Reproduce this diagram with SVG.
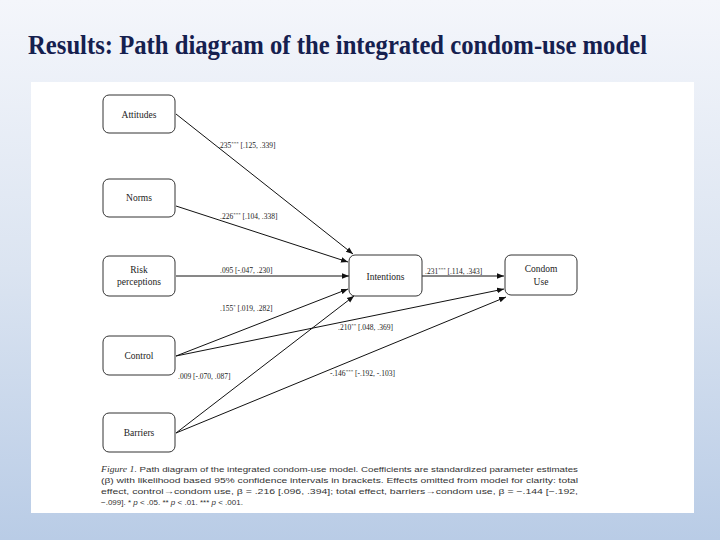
<svg xmlns="http://www.w3.org/2000/svg" width="720" height="540" viewBox="0 0 720 540">
<defs>
<linearGradient id="bg" x1="0" y1="0" x2="0" y2="1">
<stop offset="0" stop-color="#f4f6fb"/>
<stop offset="0.5" stop-color="#dbe4f1"/>
<stop offset="1" stop-color="#b9cce6"/>
</linearGradient>
<marker id="ah" viewBox="0 0 10 10" refX="10" refY="5" markerWidth="7" markerHeight="7" markerUnits="userSpaceOnUse" orient="auto">
<path d="M0,1 L10,5 L0,9 Z" fill="#111"/>
</marker>
<style>
.box{fill:#fff;stroke:#333;stroke-width:1}
.nt{font-family:"Liberation Serif",serif;font-size:9.5px;fill:#222;text-anchor:middle}
.lbl{font-family:"Liberation Serif",serif;font-size:7.5px;fill:#222}
.cap{font-family:"Liberation Sans",sans-serif;font-size:8px;fill:#333}
.edge{stroke:#111;stroke-width:1;fill:none;marker-end:url(#ah)}
</style>
</defs>
<rect width="720" height="540" fill="url(#bg)"/>
<text x="28" y="54" font-family="Liberation Serif,serif" font-weight="bold" font-size="27" fill="#15204f" textLength="619" lengthAdjust="spacingAndGlyphs">Results: Path diagram of the integrated condom-use model</text>
<rect x="31" y="82" width="663" height="431" fill="#fff"/>

<g id="connectors">
<line class="edge" x1="176" y1="114" x2="353" y2="254"/>
<line class="edge" x1="176" y1="206" x2="348" y2="262"/>
<line class="edge" x1="176" y1="276" x2="349" y2="276"/>
<line class="edge" x1="176" y1="356" x2="348" y2="289"/>
<line class="edge" x1="176" y1="356" x2="504" y2="289"/>
<line class="edge" x1="176" y1="433" x2="354" y2="296"/>
<line class="edge" x1="176" y1="433" x2="506" y2="297"/>
<line class="edge" x1="422" y1="276" x2="504" y2="276"/>
<text class="lbl" x="218" y="148">.235<tspan dy="-3" font-size="5">***</tspan><tspan dy="3"> [.125, .339]</tspan></text>
<text class="lbl" x="220" y="219">.226<tspan dy="-3" font-size="5">***</tspan><tspan dy="3"> [.104, .338]</tspan></text>
<text class="lbl" x="220" y="273">.095 [-.047, .230]</text>
<text class="lbl" x="220" y="311">.155<tspan dy="-3" font-size="5">*</tspan><tspan dy="3"> [.019, .282]</tspan></text>
<text class="lbl" x="338" y="330">.210<tspan dy="-3" font-size="5">**</tspan><tspan dy="3"> [.048, .369]</tspan></text>
<text class="lbl" x="178" y="379">.009 [-.070, .087]</text>
<text class="lbl" x="330" y="376">-.146<tspan dy="-3" font-size="5">***</tspan><tspan dy="3"> [-.192, -.103]</tspan></text>
<text class="lbl" x="425" y="274">.231<tspan dy="-3" font-size="5">***</tspan><tspan dy="3"> [.114, .343]</tspan></text>
</g>

<g id="attitudes"><rect class="box" x="103" y="95" width="72" height="38" rx="6"/><text class="nt" x="139" y="118">Attitudes</text></g>
<g id="norms"><rect class="box" x="103" y="179" width="72" height="38" rx="6"/><text class="nt" x="139" y="201">Norms</text></g>
<g id="risk"><rect class="box" x="103" y="256" width="72" height="40" rx="6"/><text class="nt" x="139" y="273">Risk</text><text class="nt" x="139" y="285">perceptions</text></g>
<g id="control"><rect class="box" x="103" y="336" width="72" height="39" rx="6"/><text class="nt" x="139" y="359">Control</text></g>
<g id="barriers"><rect class="box" x="103" y="413" width="72" height="39" rx="6"/><text class="nt" x="139" y="436">Barriers</text></g>
<g id="intentions"><rect class="box" x="349" y="255" width="73" height="41" rx="6"/><text class="nt" x="385.5" y="280">Intentions</text></g>
<g id="condom-use"><rect class="box" x="505" y="255" width="72" height="40" rx="6"/><text class="nt" x="541" y="272">Condom</text><text class="nt" x="541" y="285">Use</text></g>

<g id="caption">
<text class="cap" x="101" y="472" textLength="477" lengthAdjust="spacingAndGlyphs"><tspan font-style="italic" font-family="Liberation Serif,serif">Figure 1.</tspan>    Path diagram of the integrated condom-use model. Coefficients are standardized parameter estimates</text>
<text class="cap" x="101" y="483" textLength="477" lengthAdjust="spacingAndGlyphs">(β) with likelihood based 95% confidence intervals in brackets. Effects omitted from model for clarity: total</text>
<text class="cap" x="101" y="494" textLength="477" lengthAdjust="spacingAndGlyphs">effect, control→condom use, β = .216 [.096, .394]; total effect, barriers→condom use, β = −.144 [−.192,</text>
<text class="cap" x="101" y="505">−.099]. * <tspan font-style="italic">p</tspan> &lt; .05. ** <tspan font-style="italic">p</tspan> &lt; .01. *** <tspan font-style="italic">p</tspan> &lt; .001.</text>
</g>
</svg>
